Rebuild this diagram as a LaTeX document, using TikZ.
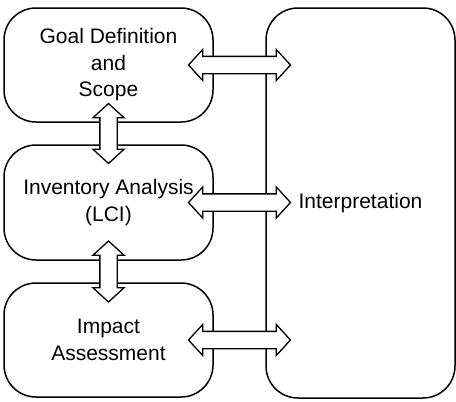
\documentclass[tikz,border=0pt]{standalone}
\usepackage{fontspec}
\setmainfont{Liberation Sans}
\usetikzlibrary{shapes.arrows,calc}
\begin{document}
\begin{tikzpicture}[x=1pt,y=1pt,
  stage/.style={draw, line width=1.5pt, rectangle, rounded corners=32pt, inner sep=0pt,
    minimum width=209pt, align=center, font=\fontsize{21}{26.5}\selectfont},
  interpbox/.style={draw, line width=1.5pt, rectangle, rounded corners=32pt, inner sep=0pt,
    minimum width=189pt, minimum height=390pt, align=center, font=\fontsize{21}{26}\selectfont},
  darrow/.style={draw, fill=white, line width=1.3pt, double arrow, inner sep=8pt,
    double arrow head extend=7pt, double arrow tip angle=95},
]
\useasboundingbox (0,0) rectangle (456,-402);
\node[stage, minimum height=114pt] (goal) at (108.5,-65) {Goal Definition\\and\\Scope};
\node[stage, minimum height=115pt] (inv) at (108.5,-202.5) {Inventory Analysis\\(LCI)};
\node[stage, minimum height=114pt] (imp) at (108.5,-340) {Impact\\Assessment};
\node[interpbox] (interp) at (360.5,-203) {Interpretation};
% horizontal double arrows
\node[darrow, minimum height=102pt] (a1) at ($(goal.east)!0.5!(interp.west |- goal.east)$) {};
\node[darrow, minimum height=102pt] (a2) at ($(inv.east)!0.5!(interp.west |- inv.east)$) {};
\node[darrow, minimum height=102pt] (a3) at ($(imp.east)!0.5!(interp.west |- imp.east)$) {};
% vertical double arrows
\node[darrow, minimum height=60pt, shape border rotate=90] (v1) at ($(goal.south)!0.5!(inv.north)$) {};
\node[darrow, minimum height=61pt, shape border rotate=90] (v2) at ($(inv.south)!0.5!(imp.north)$) {};
\end{tikzpicture}
\end{document}
